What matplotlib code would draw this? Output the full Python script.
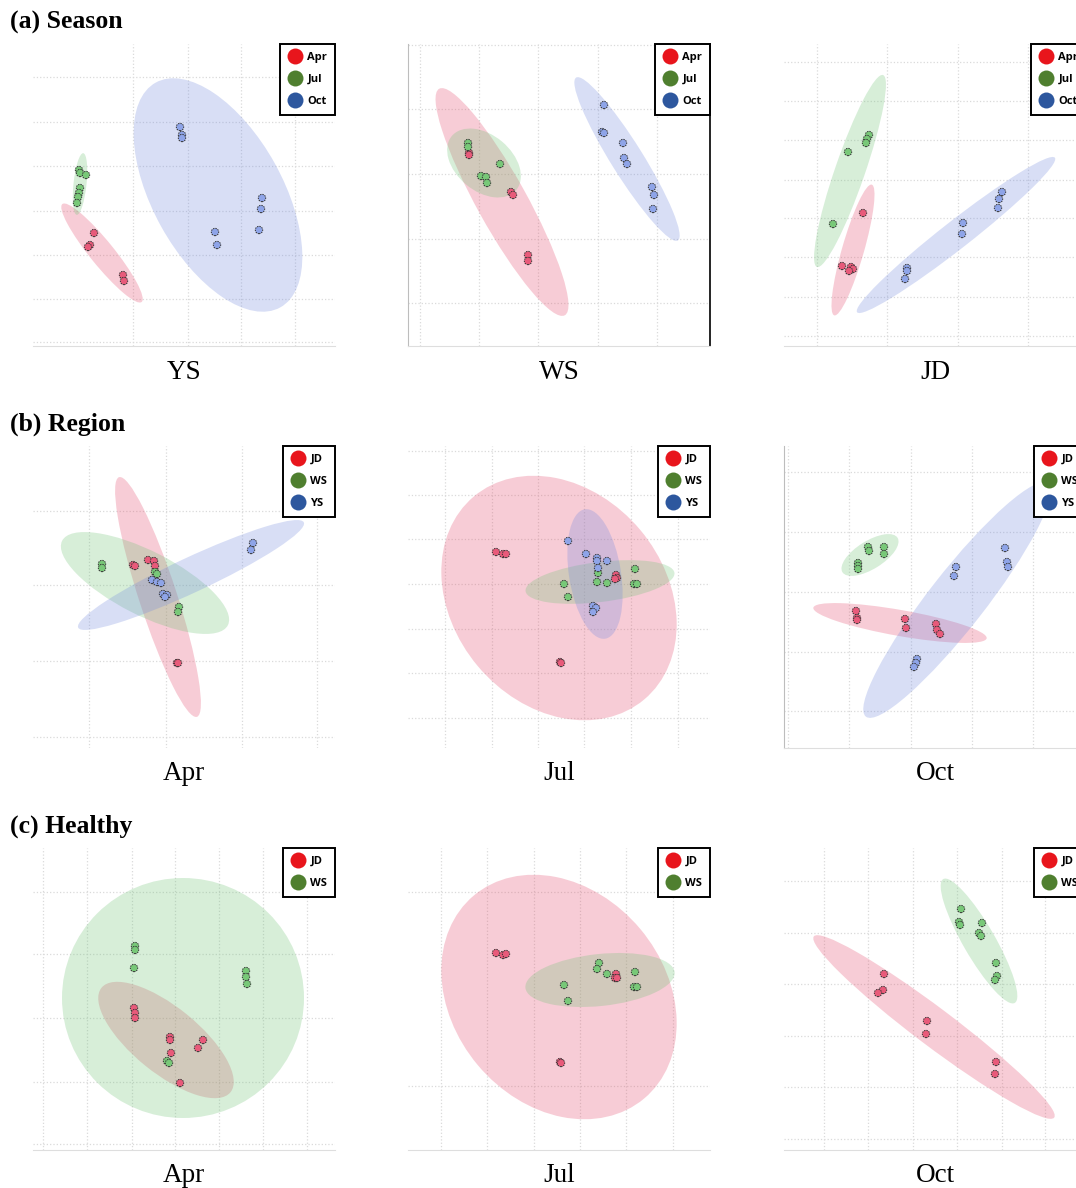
import matplotlib.pyplot as plt
from matplotlib.patches import Ellipse
from matplotlib.lines import Line2D

# panel coordinates: x 0..302 (left -> right), y 0..302 (bottom -> top)
# ellipses: (cx, cy, major, minor, angle)

# (a) Season -- YS panel
ys_apr = [(61, 113), (57, 101), (55, 99), (90, 71), (91, 65)]
ys_jul = [(46, 176), (47, 173), (53, 171), (47, 158), (46, 153), (45, 149), (44, 143)]
ys_oct = [(147, 219), (149, 211), (149, 208), (182, 114), (184, 101), (229, 148), (228, 137), (226, 116)]
ys_ell = [(69, 93, 126, 24, -51), (47, 162, 62, 13, 84), (185, 151, 257, 130, -61)]

# (a) Season -- WS panel
ws_apr = [(61, 193), (61, 191), (103, 154), (105, 151), (120, 91), (120, 85)]
ws_jul = [(60, 203), (60, 199), (92, 182), (73, 170), (78, 169), (79, 163)]
ws_oct = [(196, 241), (194, 214), (196, 213), (215, 203), (216, 188), (219, 182), (244, 159), (246, 151), (245, 137)]
ws_ell = [(94, 144, 259, 50, -61), (76, 183, 84, 56, -40), (219, 187, 192, 32, -58)]

# (a) Season -- JD panel
jd_apr = [(79, 133), (58, 80), (67, 79), (69, 77), (65, 75)]
jd_jul = [(85, 211), (83, 207), (82, 203), (64, 194), (49, 122)]
jd_oct = [(218, 154), (215, 147), (214, 138), (179, 123), (178, 112), (123, 78), (123, 75), (121, 67)]
jd_ell = [(69, 96, 136, 22, 74), (66, 175, 203, 30, 71), (172, 111, 251, 28, 38)]

# (b) Region -- Apr panel
rapr_jd = [(100, 183), (102, 182), (115, 188), (121, 187), (122, 182), (144, 85), (145, 85)]
rapr_ws = [(69, 184), (69, 180), (122, 176), (124, 174), (146, 141), (145, 136)]
rapr_ys = [(220, 205), (218, 198), (119, 168), (124, 166), (128, 165), (130, 154), (134, 153), (132, 151)]
rapr_ell = [(125, 151, 252, 38, -72), (112, 165, 186, 64, -27), (158, 173, 249, 35, 25)]

# (b) Region -- Jul panel
rjul_jd = [(88, 196), (95, 194), (98, 194), (208, 173), (209, 170), (207, 169), (152, 86), (153, 85)]
rjul_ws = [(227, 179), (190, 175), (189, 166), (199, 165), (156, 164), (160, 151), (226, 164), (229, 164)]
rjul_ys = [(160, 207), (178, 194), (189, 190), (199, 187), (189, 187), (190, 180), (185, 142), (188, 140), (185, 136)]
rjul_ell = [(151, 150, 265, 212, -50), (192, 166, 150, 40, 7), (187, 174, 131, 52, 99)]

# (b) Region -- Oct panel
roct_jd = [(72, 137), (73, 130), (73, 128), (121, 129), (122, 120), (152, 124), (153, 118), (156, 114)]
roct_ws = [(84, 201), (85, 197), (100, 201), (100, 194), (74, 185), (74, 182), (74, 179)]
roct_ys = [(221, 200), (223, 186), (224, 181), (172, 181), (170, 172), (133, 89), (132, 85), (130, 81)]
roct_ell = [(116, 125, 176, 26, -10), (86, 193, 65, 28, 32), (173, 148, 296, 56, 52)]

# (c) Healthy -- Apr panel
hapr_jd = [(101, 142), (102, 137), (102, 132), (137, 113), (137, 110), (170, 110), (165, 102), (138, 97), (147, 67)]
hapr_ws = [(102, 204), (102, 200), (101, 182), (213, 179), (213, 173), (214, 166), (134, 89), (136, 87)]
hapr_ell = [(133, 110, 166, 66, -39), (150, 152, 242, 240, 0)]

# (c) Healthy -- Jul panel
hjul_jd = [(88, 197), (95, 195), (98, 196), (208, 176), (207, 172), (209, 172), (152, 88), (153, 87)]
hjul_ws = [(191, 187), (189, 181), (199, 176), (156, 165), (160, 149), (227, 178), (226, 163), (229, 163)]
hjul_ell = [(151, 153, 265, 212, -50), (192, 170, 150, 52, 6)]

# (c) Healthy -- Oct panel
hoct_jd = [(100, 176), (99, 160), (94, 157), (143, 129), (142, 116), (212, 88), (211, 76)]
hoct_ws = [(177, 241), (175, 228), (176, 225), (198, 227), (195, 217), (197, 214), (212, 187), (213, 174), (211, 170)]
hoct_ell = [(150, 123, 301, 38, -37), (195, 209, 143, 32, -60)]

season_labels = ['Apr', 'Jul', 'Oct']
region_labels = ['JD', 'WS', 'YS']
healthy_labels = ['JD', 'WS']

legend_colors = ['#e8151c', '#4f7f2f', '#2d579e']
point_colors = ['#e85a7a', '#78c878', '#8ea4e8']
ellipse_colors = ['#e44b6c', '#70c376', '#738ade']

W, H = 302, 302
FW, FH = 1076, 1188
col_left = [33, 408, 784]
row_bottom = [346, 748, 1150]

plt.rcParams['font.family'] = ['Liberation Serif', 'DejaVu Serif']
fig = plt.figure(figsize=(FW / 100, FH / 100), dpi=100)


def panel(col, row, groups, ells, labels, name, vgrid, hgrid, left=False, bottom=True, right_black=False):
    L = col_left[col]
    B = row_bottom[row]
    ax = fig.add_axes([L / FW, 1 - B / FH, W / FW, H / FH])
    ax.set_xlim(0, W)
    ax.set_ylim(0, H)
    ax.set_xticks(vgrid)
    ax.set_yticks(hgrid)
    ax.grid(True, ls=':', color='#dadada', lw=0.9)
    ax.set_axisbelow(True)
    ax.tick_params(length=0, labelbottom=False, labelleft=False)
    for s in ['top', 'right', 'left', 'bottom']:
        ax.spines[s].set_visible(False)
    if bottom:
        ax.spines['bottom'].set_visible(True)
        ax.spines['bottom'].set_color('#dedede')
    if left:
        ax.spines['left'].set_visible(True)
        ax.spines['left'].set_color('#bdbdbd')
    if right_black:
        ax.spines['right'].set_visible(True)
        ax.spines['right'].set_color('black')
        ax.spines['right'].set_linewidth(1.2)

    for i, (cx, cy, w, h, a) in enumerate(ells):
        ax.add_patch(Ellipse((cx, cy), w, h, angle=a, facecolor=ellipse_colors[i],
                             alpha=0.28, edgecolor='none'))
    for i, pts in enumerate(groups):
        xs = [p[0] for p in pts]
        ys = [p[1] for p in pts]
        ax.scatter(xs, ys, s=28, color=point_colors[i], edgecolor='#333333',
                   linewidth=0.7, linestyle=(0, (1.5, 1)), zorder=3)

    handles = [Line2D([], [], ls='none', marker='o', markersize=11.5,
                      markerfacecolor=legend_colors[i], markeredgecolor='none')
               for i in range(len(labels))]
    leg = ax.legend(handles, labels, loc='upper right', borderaxespad=0,
                    frameon=True, fancybox=False, framealpha=1,
                    prop={'family': 'Open Sans', 'weight': 'bold', 'size': 8},
                    handlelength=1.2, handletextpad=0.55, labelspacing=1.0,
                    borderpad=0.7)
    leg.get_frame().set_edgecolor('black')
    leg.get_frame().set_linewidth(1.4)
    leg.set_zorder(5)

    ax.text(0.5, -26 / H, name, transform=ax.transAxes, ha='center', va='center',
            fontsize=19.5, family=['Liberation Serif', 'DejaVu Serif'])
    return ax


panel(0, 0, [ys_apr, ys_jul, ys_oct], ys_ell, season_labels, 'YS',
      [100, 155, 208, 262], [4, 47, 91, 135, 180, 224, 269])
panel(1, 0, [ws_apr, ws_jul, ws_oct], ws_ell, season_labels, 'WS',
      [12, 71, 130, 190, 249], [43, 107, 172, 237, 301], left=True, right_black=True)
panel(2, 0, [jd_apr, jd_jul, jd_oct], jd_ell, season_labels, 'JD',
      [33, 103, 174, 244], [10, 49, 89, 128, 166, 206, 245, 284])

panel(0, 1, [rapr_jd, rapr_ws, rapr_ys], rapr_ell, region_labels, 'Apr',
      [56, 133, 209, 284], [11, 87, 163, 237], bottom=False)
panel(1, 1, [rjul_jd, rjul_ws, rjul_ys], rjul_ell, region_labels, 'Jul',
      [37, 84, 130, 176, 223, 270], [30, 75, 119, 164, 209, 253, 297], bottom=False)
panel(2, 1, [roct_jd, roct_ws, roct_ys], roct_ell, region_labels, 'Oct',
      [4, 65, 127, 188, 249], [37, 96, 156, 216, 276], left=True)

panel(0, 2, [hapr_jd, hapr_ws], hapr_ell, healthy_labels, 'Apr',
      [10, 54, 99, 142, 186, 230, 274], [6, 68, 132, 196, 258])
panel(1, 2, [hjul_jd, hjul_ws], hjul_ell, healthy_labels, 'Jul',
      [33, 79, 126, 172, 218, 265], [64, 258])
panel(2, 2, [hoct_jd, hoct_ws], hoct_ell, healthy_labels, 'Oct',
      [40, 84, 129, 173, 218, 261], [11, 63, 114, 166, 217, 269])

for y, t in zip([22, 424, 826], ['(a) Season', '(b) Region', '(c) Healthy']):
    fig.text(10 / FW, 1 - y / FH, t, ha='left', va='center', fontsize=18.5,
             fontweight='bold', family=['Liberation Serif', 'DejaVu Serif'])

fig.savefig('out.png', dpi=100)
